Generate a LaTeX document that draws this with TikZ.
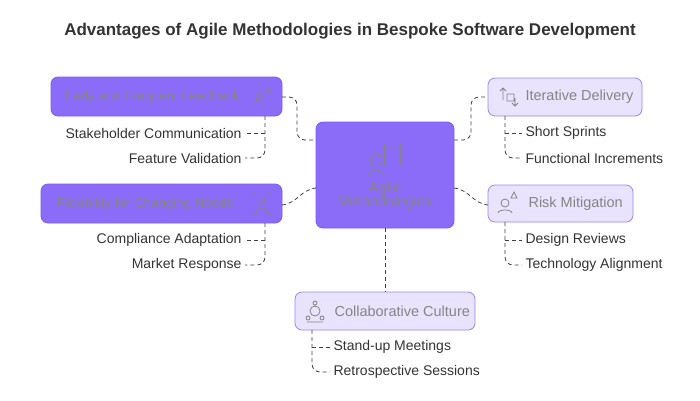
\documentclass[tikz,border=0pt]{standalone}
\usepackage{fontspec}
\setmainfont{Liberation Sans}
\definecolor{dark}{HTML}{8B6CF9}
\definecolor{darkb}{HTML}{7A5CF0}
\definecolor{light}{HTML}{E9E3FD}
\definecolor{lightb}{HTML}{9C84F5}
\definecolor{boxtxt}{HTML}{858585}
\definecolor{txt}{HTML}{333333}
\begin{document}
\begin{tikzpicture}[x=1pt,y=-1pt,
  dbox/.style={draw=darkb,fill=dark,rounded corners=7pt,line width=0.8pt},
  lbox/.style={draw=lightb,fill=light,rounded corners=7pt,line width=0.8pt},
  btxt/.style={text=boxtxt,font=\fontsize{14.5}{17}\selectfont},
  dtxt/.style={text=boxtxt,font=\fontsize{13.3}{16}\selectfont},
  stxt/.style={text=txt,font=\fontsize{14}{16}\selectfont},
  con/.style={draw=black!75,dashed,line width=0.8pt,dash pattern=on 4pt off 3pt,rounded corners=8pt},
  ico/.style={draw=boxtxt,line width=0.8pt}]
\useasboundingbox (0,0) rectangle (700,400);
\node[font=\bfseries\fontsize{17}{20}\selectfont,text=txt] (title) at (350,31) {Advantages of Agile Methodologies in Bespoke Software Development};
% boxes
\path[dbox] (316,122) rectangle (454,228);
\coordinate (cL1) at (316,140); \coordinate (cL2) at (316,188);
\coordinate (cR1) at (454,140); \coordinate (cR2) at (454,188);
\coordinate (cB) at (385,228);
\node[btxt,align=center] (central) at (385,196) {Agile\\[-3pt]Methodologies};
\draw[ico] (376,160) circle (6);
\draw[ico] (368,176) arc (180:360:8 and 6);
\draw[ico] (369,159)--(383,159);
\draw[ico] (384,143) rectangle (400,165);
\node[font=\fontsize{7}{7}\selectfont,text=boxtxt] (code) at (392,149) {</>};
\path[dbox] (51,77) rectangle (282,116);
\node[dtxt,anchor=west] (eff) at (61,97) {Early and Frequent Feedback};
\draw[ico] (259,96) circle (3.5) (253,104) arc (180:360:5 and 3.5) (268,91) circle (2.5);
\path[dbox] (41,184) rectangle (282,223);
\node[dtxt,anchor=west] (flex) at (53,204) {Flexibility for Changing Needs};
\draw[ico] (262,200) circle (3) (256,213) arc (180:360:6 and 5) (253,196)--(253,193)--(256,193) (271,196)--(271,193)--(268,193) (253,212)--(253,215)--(256,215) (271,212)--(271,215)--(268,215);
\path[lbox] (488,78) rectangle (642,116);
\node[btxt,anchor=west] (iter) at (522,97) {Iterative Delivery};
\draw[ico] (503,88)--(503,100) (500,91)--(503,88)--(506,91) (507,94) rectangle (514,101) (515,98)--(515,106) (512,103)--(515,106)--(518,103);
\path[lbox] (488,185) rectangle (633,222);
\node[btxt,anchor=west] (risk) at (525,204) {Risk Mitigation};
\draw[ico] (505,203) circle (4) (498,213) arc (180:360:7 and 3) (511,198)--(514,192)--(517,198)--cycle;
\path[lbox] (295,292) rectangle (475,330);
\node[btxt,anchor=west] (collab) at (331,311) {Collaborative Culture};
\draw[ico] (315,311) circle (5) (315,303) circle (2) (308,318) circle (2) (322,318) circle (2) (307,322)--(323,322);
% main connectors
\draw[con] (282,97) -- (297,97) -- (297,140) -- (cL1);
\draw[con] (cR1) -- (471,140) -- (471,97) -- (488,97);
\draw[con] (282,205) .. controls (298,203) and (300,190) .. (cL2);
\draw[con] (cR2) .. controls (470,190) and (472,203) .. (488,205);
\draw[con,rounded corners=0pt] (cB) -- (385,292);
% sub items
\node[stxt,anchor=east] (s1) at (245,133) {Stakeholder Communication};
\node[stxt,anchor=east] (s2) at (245,158) {Feature Validation};
\draw[con] (265,116) -- (265,158) -- (s2.east);
\draw[con] (265,133) -- (s1.east);
\node[stxt,anchor=east] (s3) at (245,240) {Compliance Adaptation};
\node[stxt,anchor=east] (s4) at (245,265) {Market Response};
\draw[con] (265,223) -- (265,265) -- (s4.east);
\draw[con] (265,240) -- (s3.east);
\node[stxt,anchor=west] (s5) at (522,133) {Short Sprints};
\node[stxt,anchor=west] (s6) at (522,158) {Functional Increments};
\draw[con] (505,116) -- (505,158) -- (s6.west);
\draw[con] (505,133) -- (s5.west);
\node[stxt,anchor=west] (s7) at (522,240) {Design Reviews};
\node[stxt,anchor=west] (s8) at (522,265) {Technology Alignment};
\draw[con] (505,222) -- (505,265) -- (s8.west);
\draw[con] (505,240) -- (s7.west);
\node[stxt,anchor=west] (s9) at (330,347) {Stand-up Meetings};
\node[stxt,anchor=west] (s10) at (330,372) {Retrospective Sessions};
\draw[con] (312,330) -- (312,372) -- (s10.west);
\draw[con] (312,347) -- (s9.west);
\end{tikzpicture}
\end{document}
